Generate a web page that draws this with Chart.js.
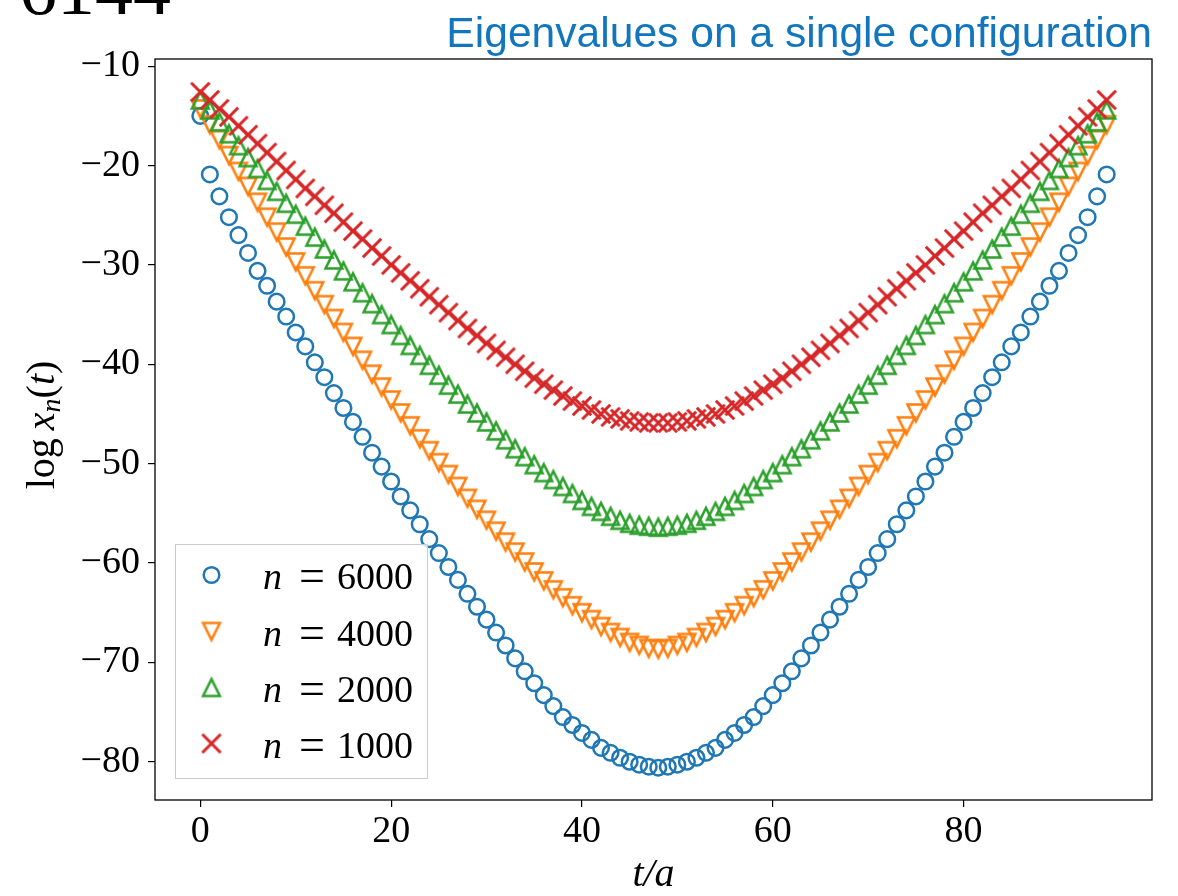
<!DOCTYPE html>
<html>
<head>
<meta charset="utf-8">
<script src="https://cdn.jsdelivr.net/npm/chart.js@4.4.1/dist/chart.umd.min.js"></script>
<style>
  html, body { margin: 0; padding: 0; background: #fff; overflow: hidden; }
</style>
</head>
<body>
<canvas id="chart" width="1178" height="896"></canvas>
<script>
// Time slices t/a and log x_n(t)
const timeSlices = [
  0, 1, 2, 3, 4, 5, 6, 7, 8, 9, 10, 11, 12, 13, 14, 15, 16, 17, 18, 19,
  20, 21, 22, 23, 24, 25, 26, 27, 28, 29, 30, 31, 32, 33, 34, 35, 36, 37, 38, 39,
  40, 41, 42, 43, 44, 45, 46, 47, 48, 49, 50, 51, 52, 53, 54, 55, 56, 57, 58, 59,
  60, 61, 62, 63, 64, 65, 66, 67, 68, 69, 70, 71, 72, 73, 74, 75, 76, 77, 78, 79,
  80, 81, 82, 83, 84, 85, 86, 87, 88, 89, 90, 91, 92, 93, 94, 95
];

const logX6000 = [
  -15.0, -20.9, -23.1, -25.2, -27.0, -28.8, -30.6, -32.1, -33.7, -35.2,
  -36.8, -38.2, -39.8, -41.3, -42.9, -44.4, -45.8, -47.3, -48.9, -50.3,
  -51.8, -53.3, -54.7, -56.1, -57.6, -59.0, -60.4, -61.7, -63.1, -64.4,
  -65.7, -67.0, -68.3, -69.6, -70.9, -72.1, -73.3, -74.4, -75.5, -76.3,
  -77.1, -77.8, -78.6, -79.1, -79.6, -80.0, -80.3, -80.5, -80.6, -80.5,
  -80.3, -80.0, -79.6, -79.1, -78.6, -77.8, -77.1, -76.3, -75.5, -74.4,
  -73.3, -72.1, -70.9, -69.6, -68.3, -67.0, -65.7, -64.4, -63.1, -61.7,
  -60.4, -59.0, -57.6, -56.1, -54.7, -53.3, -51.8, -50.3, -48.9, -47.3,
  -45.8, -44.4, -42.9, -41.3, -39.8, -38.2, -36.8, -35.2, -33.7, -32.1,
  -30.6, -28.8, -27.0, -25.2, -23.1, -20.9
];

const logX4000 = [
  -14.3, -15.9, -17.4, -19.0, -20.6, -22.1, -23.7, -25.2, -26.7, -28.2,
  -29.7, -31.1, -32.6, -34.0, -35.4, -36.8, -38.2, -39.6, -41.0, -42.3,
  -43.6, -44.9, -46.2, -47.5, -48.7, -49.9, -51.1, -52.3, -53.5, -54.6,
  -55.7, -56.8, -57.9, -58.9, -59.9, -60.9, -61.8, -62.7, -63.5, -64.3,
  -65.0, -65.7, -66.4, -67.0, -67.5, -68.0, -68.3, -68.6, -68.7, -68.6,
  -68.3, -68.0, -67.5, -67.0, -66.4, -65.7, -65.0, -64.3, -63.5, -62.7,
  -61.8, -60.9, -59.9, -58.9, -57.9, -56.8, -55.7, -54.6, -53.5, -52.3,
  -51.1, -49.9, -48.7, -47.5, -46.2, -44.9, -43.6, -42.3, -41.0, -39.6,
  -38.2, -36.8, -35.4, -34.0, -32.6, -31.1, -29.7, -28.2, -26.7, -25.2,
  -23.7, -22.1, -20.6, -19.0, -17.4, -15.9
];

const logX2000 = [
  -13.4, -14.4, -15.6, -16.8, -18.0, -19.2, -20.3, -21.5, -22.6, -23.8,
  -24.9, -26.1, -27.2, -28.4, -29.5, -30.6, -31.7, -32.8, -33.9, -35.0,
  -36.0, -37.1, -38.1, -39.1, -40.1, -41.1, -42.1, -43.0, -44.0, -44.9,
  -45.8, -46.7, -47.6, -48.5, -49.3, -50.1, -50.9, -51.6, -52.3, -53.0,
  -53.7, -54.3, -54.8, -55.3, -55.7, -56.0, -56.2, -56.3, -56.4, -56.3,
  -56.2, -56.0, -55.7, -55.3, -54.8, -54.3, -53.7, -53.0, -52.3, -51.6,
  -50.9, -50.1, -49.3, -48.5, -47.6, -46.7, -45.8, -44.9, -44.0, -43.0,
  -42.1, -41.1, -40.1, -39.1, -38.1, -37.1, -36.0, -35.0, -33.9, -32.8,
  -31.7, -30.6, -29.5, -28.4, -27.2, -26.1, -24.9, -23.8, -22.6, -21.5,
  -20.3, -19.2, -18.0, -16.8, -15.6, -14.4
];

const logX1000 = [
  -12.6, -13.4, -14.3, -15.1, -16.0, -16.9, -17.8, -18.7, -19.6, -20.5,
  -21.4, -22.3, -23.1, -24.0, -24.8, -25.7, -26.6, -27.4, -28.3, -29.1,
  -30.0, -30.8, -31.6, -32.4, -33.2, -34.0, -34.8, -35.6, -36.4, -37.1,
  -37.9, -38.6, -39.3, -40.0, -40.7, -41.4, -42.0, -42.6, -43.2, -43.7,
  -44.2, -44.6, -45.0, -45.3, -45.5, -45.7, -45.8, -45.9, -45.9, -45.9,
  -45.8, -45.7, -45.5, -45.3, -45.0, -44.6, -44.2, -43.7, -43.2, -42.6,
  -42.0, -41.4, -40.7, -40.0, -39.3, -38.6, -37.9, -37.1, -36.4, -35.6,
  -34.8, -34.0, -33.2, -32.4, -31.6, -30.8, -30.0, -29.1, -28.3, -27.4,
  -26.6, -25.7, -24.8, -24.0, -23.1, -22.3, -21.4, -20.5, -19.6, -18.7,
  -17.8, -16.9, -16.0, -15.1, -14.3, -13.4
];

const nLabels = ['6000', '4000', '2000', '1000'];
const xTicks = [0, 20, 40, 60, 80];
const yTicks = [-10, -20, -30, -40, -50, -60, -70, -80];

const COLORS = ['#1f77b4', '#ff7f0e', '#2ca02c', '#d62728'];
const SERIF = '"Liberation Serif", "DejaVu Serif", serif';

// Matplotlib-like open triangle markers ('v' and '^')
function triangleMarker(color, down) {
  const c = document.createElement('canvas');
  c.width = c.height = 32;
  const g = c.getContext('2d');
  const m = 16, h = 8.4;
  g.strokeStyle = color;
  g.lineWidth = 2.5;
  g.lineJoin = 'miter';
  g.beginPath();
  if (down) {
    g.moveTo(m - h, m - h); g.lineTo(m + h, m - h); g.lineTo(m, m + h);
  } else {
    g.moveTo(m, m - h); g.lineTo(m + h, m + h); g.lineTo(m - h, m + h);
  }
  g.closePath();
  g.stroke();
  return c;
}

// Matplotlib-like 'x' marker
function crossMarker(color) {
  const c = document.createElement('canvas');
  c.width = c.height = 32;
  const g = c.getContext('2d');
  const m = 16, h = 9.2;
  g.strokeStyle = color;
  g.lineWidth = 3;
  g.beginPath();
  g.moveTo(m - h, m - h); g.lineTo(m + h, m + h);
  g.moveTo(m - h, m + h); g.lineTo(m + h, m - h);
  g.stroke();
  return c;
}

const markers = [
  'circle',
  triangleMarker(COLORS[1], true),
  triangleMarker(COLORS[2], false),
  crossMarker(COLORS[3])
];

function toPoints(values) {
  return timeSlices.map((t, i) => ({ x: t, y: values[i] }));
}

const seriesValues = [logX6000, logX4000, logX2000, logX1000];

// Red drawn on top, blue at the bottom (matplotlib plot order)
const datasets = seriesValues.map((vals, i) => ({
  label: 'n = ' + nLabels[i],
  data: toPoints(vals),
  pointStyle: markers[i],
  pointRadius: i === 0 ? 7.8 : 10,
  pointBorderWidth: 2.5,
  pointBorderColor: COLORS[i],
  pointBackgroundColor: 'rgba(0,0,0,0)',
  showLine: false,
  order: 3 - i
}));

function minusLabel(v) {
  return v < 0 ? '\u2212' + Math.abs(v) : String(v);
}

// Frame, title, axis labels and the legend
const decorations = {
  id: 'decorations',
  afterDatasetsDraw(chart) {
    const { ctx, chartArea: a } = chart;
    ctx.save();

    // full box around the axes
    ctx.strokeStyle = '#000';
    ctx.lineWidth = 1.3;
    ctx.strokeRect(a.left, a.top, a.right - a.left, a.bottom - a.top);

    // legend
    const bx = 175.5, by = 544.5, bw = 252, bh = 234;
    ctx.fillStyle = 'rgba(255,255,255,0.8)';
    ctx.fillRect(bx, by, bw, bh);
    ctx.strokeStyle = '#cccccc';
    ctx.lineWidth = 1;
    ctx.strokeRect(bx, by, bw, bh);

    const rows = [575, 631.5, 687.5, 743.5];
    rows.forEach((ry, i) => {
      const mx = 211.5;
      if (i === 0) {
        ctx.beginPath();
        ctx.arc(mx, ry, 7.8, 0, Math.PI * 2);
        ctx.strokeStyle = COLORS[0];
        ctx.lineWidth = 2.5;
        ctx.stroke();
      } else {
        const img = markers[i];
        ctx.drawImage(img, mx - img.width / 2, ry - img.height / 2);
      }
      const base = ry + 14;
      ctx.fillStyle = '#000';
      ctx.textBaseline = 'alphabetic';
      ctx.textAlign = 'left';
      ctx.font = 'italic 38px ' + SERIF;
      ctx.fillText('n', 263, base);
      ctx.font = '46px ' + SERIF;
      ctx.textAlign = 'center';
      ctx.fillText('=', 312, base + 2);
      ctx.font = '38px ' + SERIF;
      ctx.textAlign = 'left';
      ctx.fillText(nLabels[i], 337, base);
    });

    ctx.restore();
  },
  afterDraw(chart) {
    const { ctx, chartArea: a } = chart;
    ctx.save();
    ctx.fillStyle = '#000';
    ctx.textBaseline = 'alphabetic';

    // panel tag, cut at the top of the figure
    ctx.font = '76px ' + SERIF;
    ctx.textAlign = 'left';
    ctx.fillText('6144', 19, 14);

    // title
    ctx.font = '42.6px "Liberation Sans", Arial, sans-serif';
    ctx.textAlign = 'right';
    ctx.fillStyle = '#1276bf';
    ctx.fillText('Eigenvalues on a single configuration', a.right, 47);

    // x axis title
    ctx.fillStyle = '#000';
    ctx.textAlign = 'center';
    ctx.font = 'italic 40px ' + SERIF;
    ctx.fillText('t/a', (a.left + a.right) / 2, 886);

    // y axis title: log x_n(t)
    const parts = [
      { s: 'log', f: '40px ' + SERIF, dy: 0 },
      { s: '\u2009', f: '40px ' + SERIF, dy: 0 },
      { s: 'x', f: 'italic 40px ' + SERIF, dy: 0 },
      { s: 'n', f: 'italic 28px ' + SERIF, dy: 6 },
      { s: '(', f: '40px ' + SERIF, dy: 0 },
      { s: 't', f: 'italic 40px ' + SERIF, dy: 0 },
      { s: ')', f: '40px ' + SERIF, dy: 0 }
    ];
    let total = 0;
    parts.forEach(p => { ctx.font = p.f; p.w = ctx.measureText(p.s).width; total += p.w; });
    ctx.translate(54, 425);
    ctx.rotate(-Math.PI / 2);
    ctx.textAlign = 'left';
    let x = -total / 2;
    parts.forEach(p => {
      ctx.font = p.f;
      ctx.fillText(p.s, x, p.dy);
      x += p.w;
    });

    ctx.restore();
  }
};

new Chart(document.getElementById('chart').getContext('2d'), {
  type: 'scatter',
  data: { datasets },
  options: {
    responsive: false,
    animation: false,
    layout: { padding: { top: 59, right: 26, bottom: 0, left: 0 } },
    plugins: {
      legend: { display: false },
      tooltip: { enabled: false }
    },
    scales: {
      x: {
        type: 'linear',
        min: -4.75,
        max: 99.75,
        afterFit: s => { s.height = 96; },
        afterBuildTicks: s => { s.ticks = xTicks.map(v => ({ value: v })); },
        grid: { drawOnChartArea: false, drawTicks: true, tickLength: 7, color: '#000', lineWidth: 1.2 },
        border: { display: false },
        ticks: { color: '#000', font: { family: SERIF, size: 38 }, padding: 2, maxRotation: 0 }
      },
      y: {
        type: 'linear',
        min: -83.85,
        max: -9.28,
        afterFit: s => { s.width = 155; },
        afterBuildTicks: s => { s.ticks = yTicks.map(v => ({ value: v })); },
        grid: { drawOnChartArea: false, drawTicks: true, tickLength: 7, color: '#000', lineWidth: 1.2 },
        border: { display: false },
        ticks: { color: '#000', font: { family: SERIF, size: 38 }, padding: 8, callback: minusLabel }
      }
    }
  },
  plugins: [decorations]
});
</script>
</body>
</html>
